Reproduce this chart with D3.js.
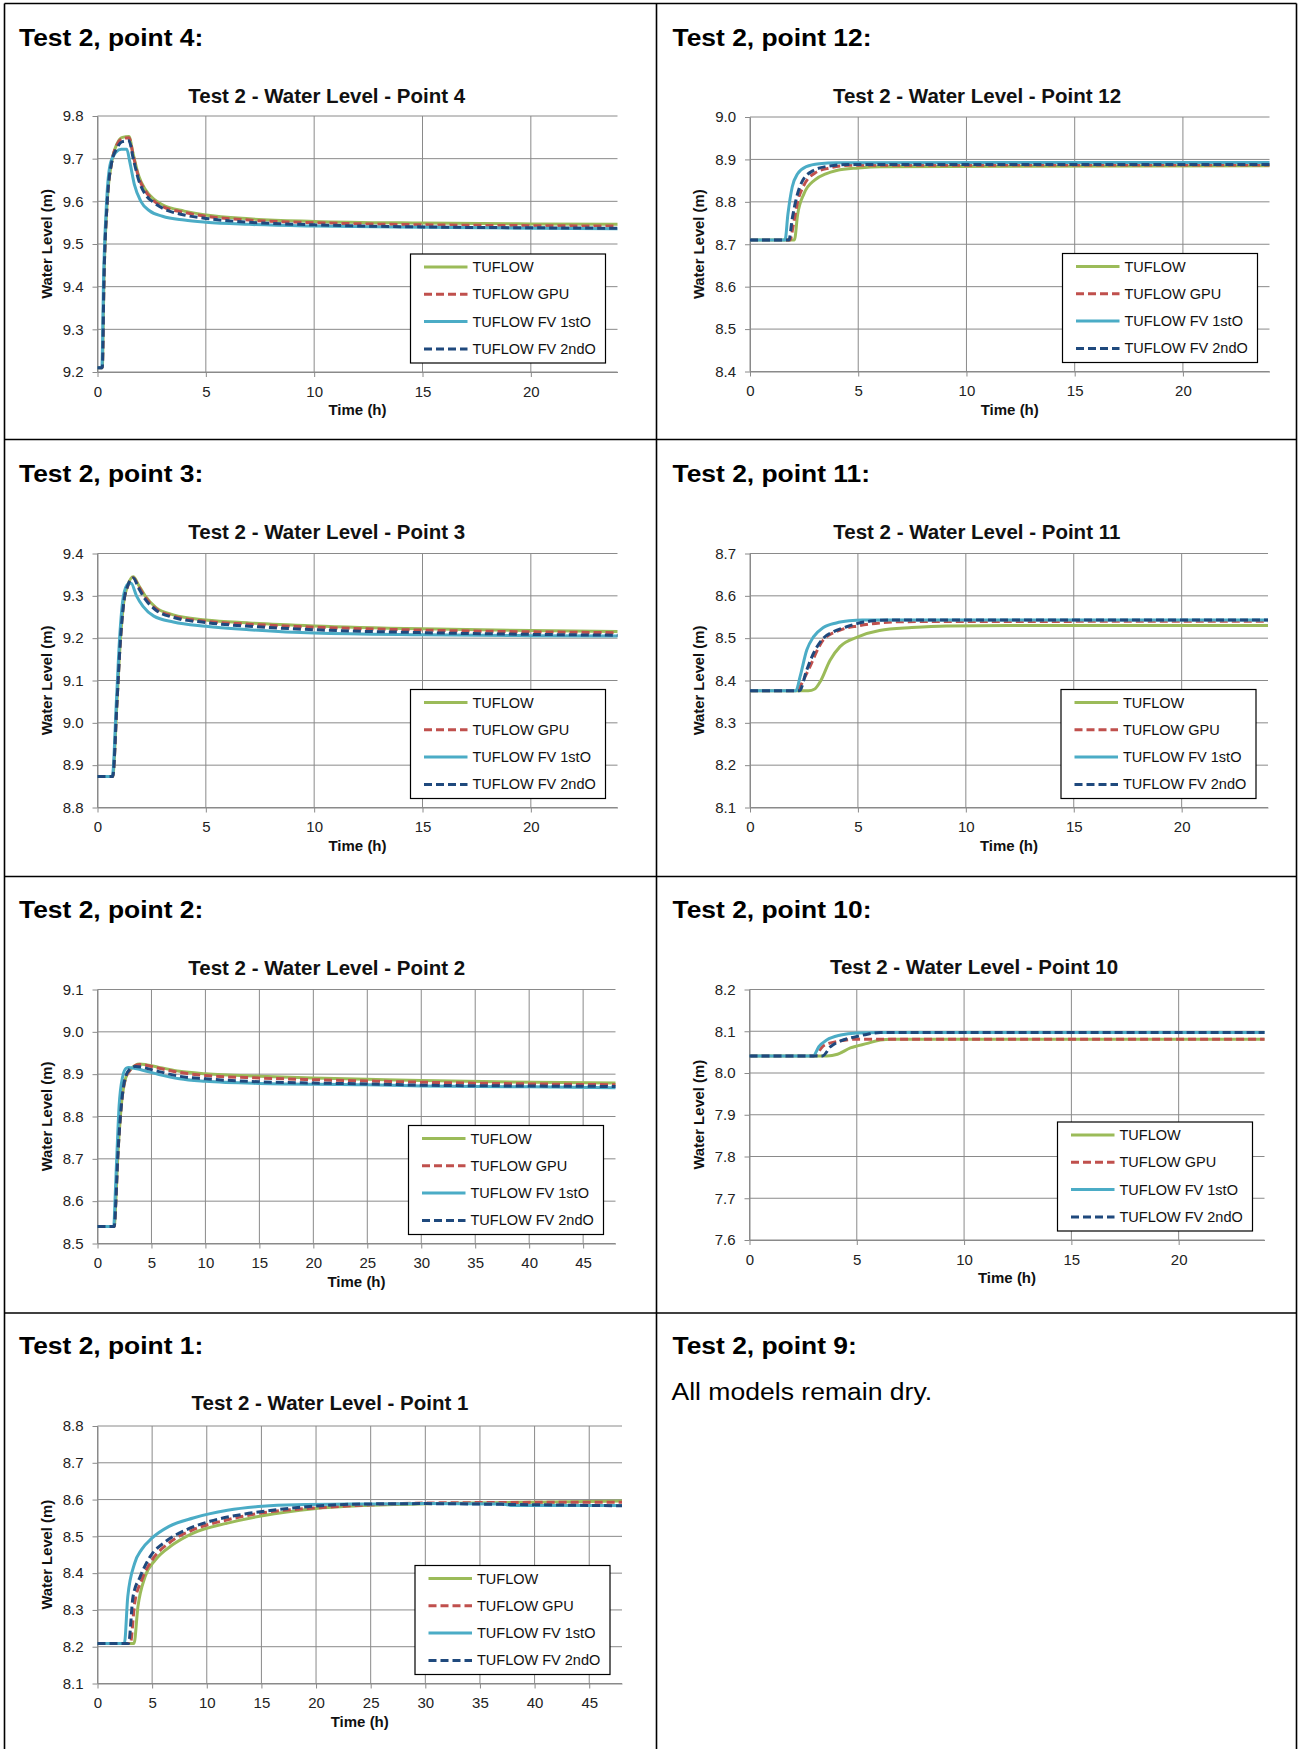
<!DOCTYPE html>
<html><head><meta charset="utf-8">
<script src="https://cdn.jsdelivr.net/npm/d3@7"></script>
<style>
html,body{margin:0;padding:0;background:#fff;}
svg{display:block;}
text{font-family:"Liberation Sans",Arial,sans-serif;}
</style></head><body>
<svg id="c" width="1298" height="1749"></svg>
<script>
// ---------- series / legend ----------
const seriesNames = ["TUFLOW", "TUFLOW GPU", "TUFLOW FV 1stO", "TUFLOW FV 2ndO"];

// ---------- tick labels ----------
const xTicks24 = [0, 5, 10, 15, 20];
const xTicks48 = [0, 5, 10, 15, 20, 25, 30, 35, 40, 45];
const yTicksP4 = [9.2, 9.3, 9.4, 9.5, 9.6, 9.7, 9.8];
const yTicksP12 = [8.4, 8.5, 8.6, 8.7, 8.8, 8.9, 9.0];
const yTicksP3 = [8.8, 8.9, 9.0, 9.1, 9.2, 9.3, 9.4];
const yTicksP11 = [8.1, 8.2, 8.3, 8.4, 8.5, 8.6, 8.7];
const yTicksP2 = [8.5, 8.6, 8.7, 8.8, 8.9, 9.0, 9.1];
const yTicksP10 = [7.6, 7.7, 7.8, 7.9, 8.0, 8.1, 8.2];
const yTicksP1 = [8.1, 8.2, 8.3, 8.4, 8.5, 8.6, 8.7, 8.8];

// ---------- data: [time (h), water level (m)] ----------
// Point 4
const p4Tuflow = [[0,9.21],[0.22,9.21],[0.3,9.42],[0.45,9.6],[0.65,9.69],[0.9,9.735],[1.15,9.75],[1.45,9.752],[1.65,9.71],[1.9,9.66],[2.2,9.628],[2.6,9.605],[3,9.592],[4,9.577],[5,9.568],[7,9.559],[10,9.553],[15,9.549],[20,9.547],[24,9.546]];
const p4Gpu = [[0,9.21],[0.22,9.21],[0.3,9.42],[0.45,9.6],[0.65,9.69],[0.9,9.733],[1.15,9.747],[1.45,9.749],[1.65,9.707],[1.9,9.656],[2.2,9.625],[2.6,9.601],[3,9.588],[4,9.574],[5,9.565],[7,9.556],[10,9.55],[15,9.545],[20,9.543],[24,9.542]];
const p4Fv1 = [[0,9.21],[0.2,9.21],[0.28,9.42],[0.42,9.6],[0.6,9.69],[0.85,9.715],[1.1,9.722],[1.35,9.722],[1.5,9.69],[1.7,9.64],[2.0,9.6],[2.4,9.578],[3,9.565],[4,9.556],[5,9.551],[7,9.546],[10,9.542],[15,9.539],[20,9.537],[24,9.536]];
const p4Fv2 = [[0,9.21],[0.22,9.21],[0.3,9.42],[0.45,9.6],[0.65,9.69],[0.9,9.725],[1.15,9.74],[1.45,9.742],[1.65,9.7],[1.9,9.65],[2.2,9.617],[2.6,9.597],[3,9.584],[4,9.568],[5,9.56],[7,9.551],[10,9.545],[15,9.54],[20,9.538],[24,9.537]];
// Point 12
const p12Tuflow = [[0,8.71],[2.05,8.71],[2.2,8.77],[2.5,8.82],[3,8.852],[3.5,8.866],[4,8.874],[5,8.88],[6,8.883],[24,8.885]];
const p12Gpu = [[0,8.71],[1.85,8.71],[2.0,8.745],[2.2,8.8],[2.5,8.84],[3.0,8.868],[3.7,8.88],[4.6,8.886],[24,8.887]];
const p12Fv1 = [[0,8.71],[1.62,8.71],[1.75,8.77],[1.95,8.835],[2.2,8.866],[2.6,8.883],[3.2,8.89],[4,8.892],[24,8.893]];
const p12Fv2 = [[0,8.71],[1.8,8.71],[1.95,8.76],[2.15,8.81],[2.4,8.847],[2.9,8.873],[3.6,8.884],[4.5,8.888],[24,8.888]];
// Point 3
const p3Tuflow = [[0,8.873],[0.7,8.873],[0.9,9.05],[1.05,9.19],[1.2,9.28],[1.4,9.325],[1.65,9.345],[1.9,9.325],[2.2,9.3],[2.7,9.272],[3.5,9.255],[5,9.243],[7,9.236],[10,9.229],[15,9.222],[20,9.218],[24,9.216]];
const p3Gpu = [[0,8.873],[0.7,8.873],[0.9,9.05],[1.05,9.19],[1.2,9.28],[1.4,9.323],[1.65,9.343],[1.9,9.322],[2.2,9.297],[2.7,9.269],[3.5,9.252],[5,9.24],[7,9.233],[10,9.226],[15,9.219],[20,9.215],[24,9.213]];
const p3Fv1 = [[0,8.873],[0.68,8.873],[0.88,9.06],[1.02,9.2],[1.2,9.3],[1.4,9.328],[1.55,9.33],[1.8,9.3],[2.1,9.275],[2.6,9.252],[3.5,9.238],[5,9.228],[7,9.22],[10,9.212],[15,9.208],[20,9.206],[24,9.205]];
const p3Fv2 = [[0,8.873],[0.7,8.873],[0.9,9.05],[1.05,9.19],[1.2,9.28],[1.4,9.325],[1.65,9.342],[1.9,9.318],[2.2,9.292],[2.7,9.266],[3.5,9.249],[5,9.237],[7,9.228],[10,9.22],[15,9.213],[20,9.209],[24,9.207]];
// Point 11
const p11Tuflow = [[0,8.376],[2.7,8.376],[3.0,8.38],[3.25,8.397],[3.71,8.448],[4.17,8.48],[5,8.503],[6,8.518],[7.5,8.525],[9.1,8.529],[12,8.53],[24,8.53]];
const p11Gpu = [[0,8.376],[2.1,8.376],[2.3,8.385],[2.63,8.417],[3.4,8.496],[4.17,8.519],[5,8.529],[6,8.536],[7,8.539],[24,8.54]];
const p11Fv1 = [[0,8.376],[2.13,8.376],[2.32,8.409],[2.63,8.472],[2.94,8.503],[3.4,8.525],[4.0,8.536],[4.6,8.541],[5.2,8.543],[24,8.543]];
const p11Fv2 = [[0,8.376],[2.29,8.376],[2.63,8.425],[2.94,8.464],[3.4,8.5],[3.86,8.515],[4.48,8.527],[5,8.535],[5.7,8.541],[6.5,8.543],[24,8.543]];
// Point 2
const p2Tuflow = [[0,8.54],[1.55,8.54],[1.7,8.6],[1.85,8.69],[2.15,8.81],[2.6,8.89],[3.1,8.912],[3.9,8.924],[5.7,8.916],[7.6,8.907],[10,8.901],[15,8.895],[20,8.891],[25,8.888],[30,8.885],[37,8.882],[48,8.879]];
const p2Gpu = [[0,8.54],[1.55,8.54],[1.7,8.6],[1.85,8.69],[2.15,8.81],[2.6,8.89],[3.1,8.912],[3.9,8.923],[5.7,8.914],[7.6,8.904],[10,8.897],[15,8.891],[20,8.887],[25,8.884],[30,8.881],[37,8.878],[48,8.875]];
const p2Fv1 = [[0,8.54],[1.5,8.54],[1.65,8.62],[1.8,8.713],[2.0,8.824],[2.33,8.894],[2.65,8.914],[2.9,8.916],[4.1,8.91],[5.7,8.899],[7.6,8.889],[10,8.883],[15,8.878],[25,8.875],[30,8.872],[40,8.87],[48,8.868]];
const p2Fv2 = [[0,8.54],[1.55,8.54],[1.7,8.6],[1.85,8.69],[2.15,8.81],[2.55,8.89],[3.0,8.912],[3.5,8.918],[5.7,8.906],[7.6,8.895],[10,8.889],[15,8.882],[20,8.879],[25,8.877],[30,8.874],[40,8.872],[48,8.871]];
// Point 10
const p10Tuflow = [[0,8.041],[3.6,8.041],[4.1,8.045],[4.7,8.06],[5.5,8.071],[6.1,8.079],[6.6,8.081],[24,8.081]];
const p10Gpu = [[0,8.041],[3.0,8.041],[3.47,8.066],[4.25,8.077],[5,8.081],[24,8.081]];
const p10Fv1 = [[0,8.041],[2.97,8.041],[3.23,8.063],[3.6,8.079],[4.25,8.091],[5,8.096],[6,8.097],[24,8.097]];
const p10Fv2 = [[0,8.041],[3.4,8.041],[3.78,8.063],[4.25,8.077],[4.88,8.086],[5.5,8.093],[6.1,8.097],[24,8.097]];
// Point 1
const p1Tuflow = [[0,8.209],[3.34,8.209],[3.7,8.309],[4.35,8.39],[5.3,8.436],[6.87,8.477],[8.76,8.509],[11.9,8.536],[15.1,8.556],[19.8,8.575],[24.5,8.584],[30.8,8.589],[40,8.593],[48,8.596]];
const p1Gpu = [[0,8.209],[3.0,8.209],[3.4,8.318],[4.03,8.38],[5,8.436],[6.55,8.482],[8.76,8.518],[11.9,8.545],[15.1,8.564],[19.8,8.577],[24.5,8.585],[31,8.591],[48,8.593]];
const p1Fv1 = [[0,8.209],[2.46,8.209],[2.77,8.336],[3.4,8.427],[4.03,8.464],[4.98,8.495],[6.55,8.527],[8.76,8.55],[11.9,8.571],[15.1,8.582],[18.2,8.586],[24.5,8.588],[30,8.589],[37,8.588],[38,8.584],[48,8.584]];
const p1Fv2 = [[0,8.209],[2.84,8.209],[3.25,8.336],[3.9,8.39],[4.82,8.445],[6.24,8.486],[8.13,8.518],[10.3,8.541],[13.5,8.561],[16.6,8.573],[19.8,8.582],[24.5,8.588],[30,8.589],[37,8.587],[48,8.583]];

// ---------- styles ----------
const seriesColors = ["#9BBB59", "#C0504D", "#4BACC6", "#1F497D"];
const seriesDash = [null, "8,4", null, "8,4"];
const gridColor = "#8a8a8a";

// ---------- layout ----------
const panels = [
  {head:"Test 2, point 4:", title:"Test 2 - Water Level - Point 4", series:[p4Tuflow,p4Gpu,p4Fv1,p4Fv2],
   xMax:24, xTicks:xTicks24, yTicks:yTicksP4, box:[97.5,617.5,116,372], hx:19, hy:45.5, tx:326.7, ty:102.5},
  {head:"Test 2, point 12:", title:"Test 2 - Water Level - Point 12", series:[p12Tuflow,p12Gpu,p12Fv1,p12Fv2],
   xMax:24, xTicks:xTicks24, yTicks:yTicksP12, box:[750,1269.5,117,371.5], hx:672.5, hy:45.5, tx:977, ty:102.5},
  {head:"Test 2, point 3:", title:"Test 2 - Water Level - Point 3", series:[p3Tuflow,p3Gpu,p3Fv1,p3Fv2],
   xMax:24, xTicks:xTicks24, yTicks:yTicksP3, box:[97.5,617.5,553.5,807.5], hx:19, hy:481.5, tx:326.7, ty:538.5},
  {head:"Test 2, point 11:", title:"Test 2 - Water Level - Point 11", series:[p11Tuflow,p11Gpu,p11Fv1,p11Fv2],
   xMax:24, xTicks:xTicks24, yTicks:yTicksP11, box:[750,1268,553.5,807.5], hx:672.5, hy:481.5, tx:976.8, ty:538.5},
  {head:"Test 2, point 2:", title:"Test 2 - Water Level - Point 2", series:[p2Tuflow,p2Gpu,p2Fv1,p2Fv2],
   xMax:48, xTicks:xTicks48, yTicks:yTicksP2, box:[97.5,615.5,989.5,1243.5], hx:19, hy:917.5, tx:326.7, ty:975},
  {head:"Test 2, point 10:", title:"Test 2 - Water Level - Point 10", series:[p10Tuflow,p10Gpu,p10Fv1,p10Fv2],
   xMax:24, xTicks:xTicks24, yTicks:yTicksP10, box:[749.5,1264.5,989.5,1240], hx:672.5, hy:917.5, tx:974, ty:974},
  {head:"Test 2, point 1:", title:"Test 2 - Water Level - Point 1", series:[p1Tuflow,p1Gpu,p1Fv1,p1Fv2],
   xMax:48, xTicks:xTicks48, yTicks:yTicksP1, box:[97.5,622,1426,1683.5], hx:19, hy:1353.5, tx:330, ty:1410}
];

const svg = d3.select("#c");

// table borders
const border = svg.append("g").attr("stroke", "#000").attr("stroke-width", 1.6);
[[4.5,3.5,1296.5,3.5],[4.5,439.5,1296.5,439.5],[4.5,876.5,1296.5,876.5],[4.5,1313,1296.5,1313],
 [4.5,3.5,4.5,1749],[656.5,3.5,656.5,1749],[1296.5,3.5,1296.5,1749]].forEach(l => {
  border.append("line").attr("x1", l[0]).attr("y1", l[1]).attr("x2", l[2]).attr("y2", l[3]);
});

function heading(x, y, txt) {
  svg.append("text").attr("transform", `translate(${x},${y}) scale(1.1,1)`)
    .attr("font-size", 24).attr("font-weight", "bold").attr("fill", "#000").text(txt);
}

panels.forEach(p => {
  heading(p.hx, p.hy, p.head);
  const [x0, x1, y0, y1] = p.box;
  const yMin = p.yTicks[0], yMax = p.yTicks[p.yTicks.length - 1];
  const x = d3.scaleLinear().domain([0, p.xMax]).range([x0, x1]);
  const y = d3.scaleLinear().domain([yMin, yMax]).range([y1, y0]);
  const g = svg.append("g");

  // chart title
  g.append("text").attr("x", p.tx).attr("y", p.ty).attr("text-anchor", "middle")
    .attr("font-size", 20.5).attr("font-weight", "bold").attr("fill", "#111").text(p.title);

  // gridlines
  g.append("g").selectAll("line").data(p.yTicks).join("line")
    .attr("x1", x0).attr("x2", x1).attr("y1", d => y(d)).attr("y2", d => y(d))
    .attr("stroke", gridColor).attr("stroke-width", 1);
  g.append("g").selectAll("line").data(p.xTicks).join("line")
    .attr("x1", d => x(d)).attr("x2", d => x(d)).attr("y1", y0).attr("y2", y1)
    .attr("stroke", gridColor).attr("stroke-width", 1);

  // axes
  const ax = g.append("g").attr("transform", `translate(0,${y1})`)
    .call(d3.axisBottom(x).tickValues(p.xTicks).tickSize(5).tickSizeOuter(0).tickPadding(9).tickFormat(d3.format("d")));
  const ay = g.append("g").attr("transform", `translate(${x0},0)`)
    .call(d3.axisLeft(y).tickValues(p.yTicks).tickSize(5).tickSizeOuter(0).tickPadding(9).tickFormat(d3.format(".1f")));
  [ax, ay].forEach(a => {
    a.select(".domain").attr("stroke", gridColor);
    a.selectAll(".tick line").attr("stroke", gridColor);
    a.selectAll(".tick text").attr("font-size", 15).attr("fill", "#222")
      .attr("font-family", '"Liberation Sans", Arial, sans-serif');
  });

  // axis titles
  g.append("text").attr("x", (x0 + x1) / 2).attr("y", y1 + 43).attr("text-anchor", "middle")
    .attr("font-size", 15).attr("font-weight", "bold").attr("fill", "#111").text("Time (h)");
  g.append("text").attr("transform", `translate(${x0 - 46},${(y0 + y1) / 2}) rotate(-90)`)
    .attr("text-anchor", "middle").attr("font-size", 14.8).attr("font-weight", "bold")
    .attr("fill", "#111").text("Water Level (m)");

  // series lines
  const line = d3.line().x(d => x(d[0])).y(d => y(d[1])).curve(d3.curveMonotoneX);
  p.series.forEach((s, i) => {
    g.append("path").datum(s).attr("d", line).attr("fill", "none")
      .attr("stroke", seriesColors[i]).attr("stroke-width", 3)
      .attr("stroke-linejoin", "round")
      .attr("stroke-dasharray", seriesDash[i]);
  });

  // legend
  const lw = 195, lh = 109;
  const lx = x1 - 12 - lw, ly = y1 - 9 - lh;
  const lg = g.append("g").attr("transform", `translate(${lx},${ly})`);
  lg.append("rect").attr("width", lw).attr("height", lh).attr("fill", "#fff")
    .attr("stroke", "#000").attr("stroke-width", 1.2);
  seriesNames.forEach((n, i) => {
    const yy = 13 + i * 27.3;
    lg.append("line").attr("x1", 13.5).attr("x2", 57).attr("y1", yy).attr("y2", yy)
      .attr("stroke", seriesColors[i]).attr("stroke-width", 3).attr("stroke-dasharray", seriesDash[i]);
    lg.append("text").attr("x", 62).attr("y", yy).attr("dy", "0.35em")
      .attr("font-size", 14.5).attr("fill", "#111").text(n);
  });
});

// point 9 (no chart)
heading(672.5, 1353.5, "Test 2, point 9:");
svg.append("text").attr("transform", "translate(671.5,1400) scale(1.13,1)")
  .attr("font-size", 23.5).attr("fill", "#000").text("All models remain dry.");
</script>
</body></html>
